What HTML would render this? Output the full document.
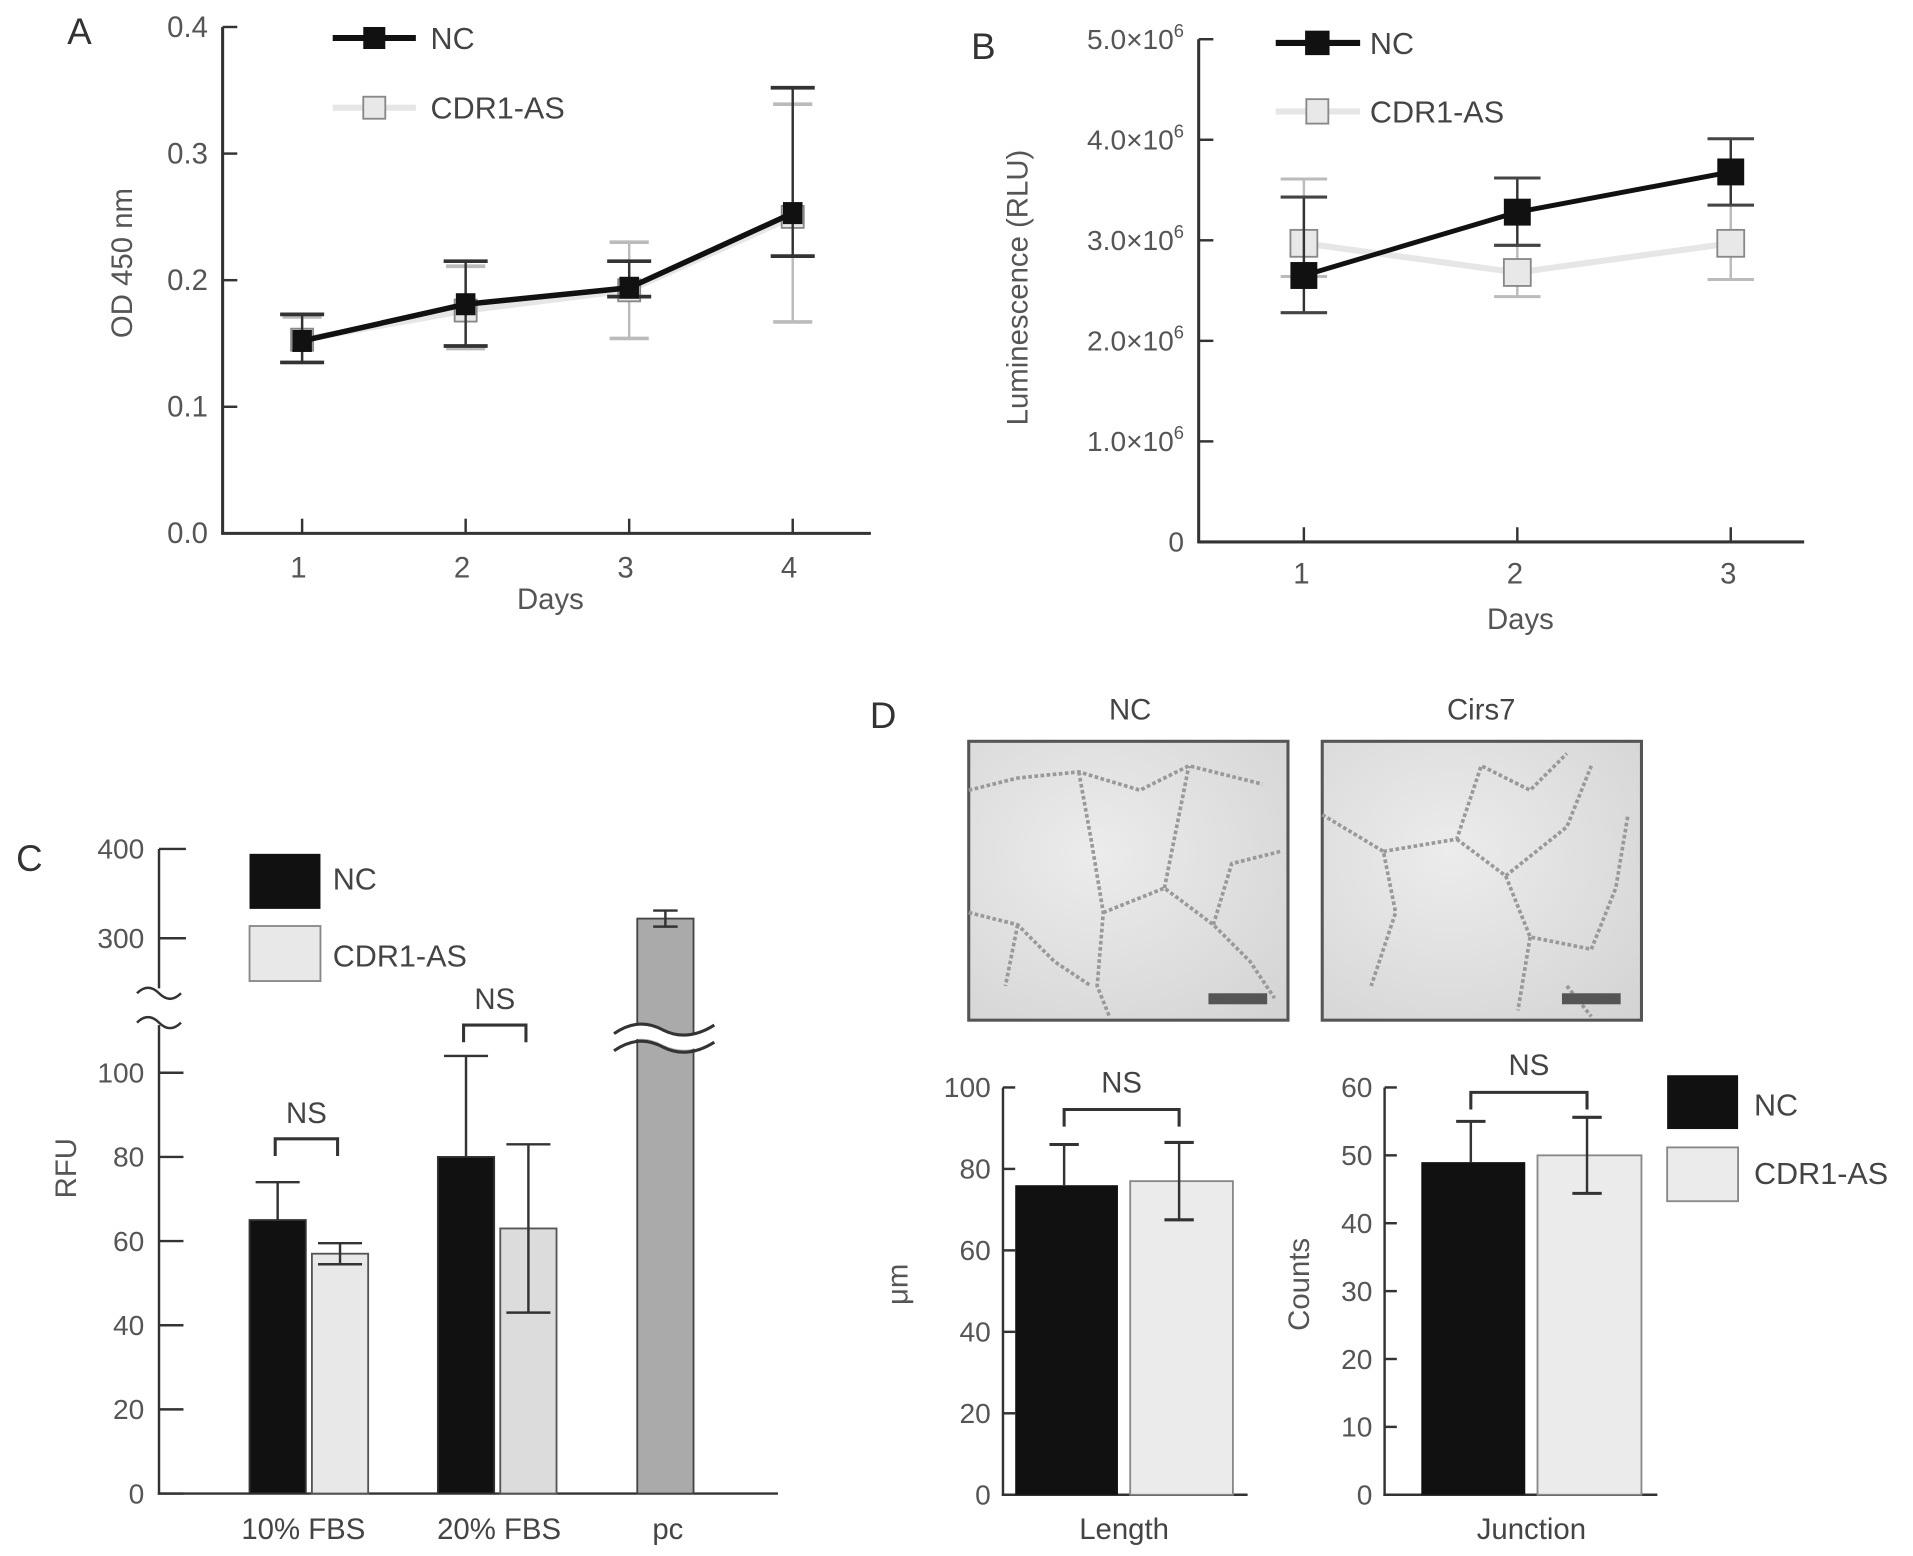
<!DOCTYPE html>
<html><head><meta charset="utf-8"><style>
html,body{margin:0;padding:0;background:#fff}
svg{display:block;font-family:"Liberation Sans",sans-serif}
</style></head><body>
<svg id="fig" width="1913" height="1556" viewBox="0 0 1564 1272" xmlns="http://www.w3.org/2000/svg">
<defs>
<radialGradient id="mg" cx="0.4" cy="0.4" r="0.8"><stop offset="0" stop-color="#ececec"/><stop offset="1" stop-color="#d4d4d4"/></radialGradient>
</defs>
<g id="root"></g>
</svg>
<script>
// Panel A data
const aDays = [1, 2, 3, 4];
const aNC = [0.152, 0.181, 0.194, 0.253];
const aNCerrHi = [0.021, 0.034, 0.021, 0.099];
const aNCerrLo = [0.017, 0.033, 0.007, 0.034];
const aCD = [0.153, 0.176, 0.192, 0.25];
const aCDerrHi = [0.018, 0.035, 0.038, 0.089];
const aCDerrLo = [0.018, 0.03, 0.038, 0.083];
const aTicks = ["0.0", "0.1", "0.2", "0.3", "0.4"];
// Panel B data
const bDays = [1, 2, 3];
const bNC = [2.65, 3.28, 3.68];
const bNCerrHi = [0.78, 0.34, 0.33];
const bNCerrLo = [0.37, 0.33, 0.33];
const bCD = [2.97, 2.68, 2.97];
const bCDerrHi = [0.64, 0.27, 0.38];
const bCDerrLo = [0.33, 0.24, 0.36];
const bTicks = ["0", "1.0", "2.0", "3.0", "4.0", "5.0"];
// Panel C data
const cCats = ["10% FBS", "20% FBS", "pc"];
const cNC = [65, 80];
const cNCerr = [9, 24];
const cCD = [57, 63];
const cCDerr = [2.5, 20];
const cPC = [322];
const cPCerr = [9];
const cTicksLow = [0, 20, 40, 60, 80, 100];
const cTicksHigh = [300, 400];
// Panel D data
const dLenNC = [76];
const dLenNCerr = [10];
const dLenCD = [77];
const dLenCDerr = [9.5];
const dLenTicks = [0, 20, 40, 60, 80, 100];
const dJunNC = [49];
const dJunNCerr = [6];
const dJunCD = [50];
const dJunCDerr = [5.6];
const dJunTicks = [0, 10, 20, 30, 40, 50, 60];

const NS = "http://www.w3.org/2000/svg";
const root = document.getElementById('root');
function mk(tag, a, parent){const e=document.createElementNS(NS,tag);for(const k in a)e.setAttribute(k,a[k]);(parent||root).appendChild(e);return e;}
function txt(s,x,y,size,anchor,fill,parent){const t=mk('text',{x:x,y:y,'font-size':size,'text-anchor':anchor||'middle',fill:fill||'#444'},parent);t.textContent=s;return t;}
function line(x1,y1,x2,y2,stroke,w,parent){return mk('line',{x1:x1,y1:y1,x2:x2,y2:y2,stroke:stroke,'stroke-width':w},parent);}

// ---------- Panel A ----------
(function(){
const g=mk('g',{});


const x=d=>247+(d-1)*133.7, y=v=>436-v/0.4*414;
let t=txt('A',65,36,30,'middle','#333',g);


line(182,22,182,437,'#333',2.5,g);line(181,436,712,436,'#333',2.5,g);
aTicks.forEach((s,i)=>{const v=i*0.1;line(182,y(v),194,y(v),'#333',2,g);const tt=txt(s,170,y(v)+8,24,'end','#555',g);});
aDays.forEach(d=>{line(x(d),424,x(d),436,'#333',2,g);const tt=txt(String(d),x(d)-3,472,24,'middle','#555',g);});
t=txt('Days',450,498,24,'middle','#555',g);
t=txt('OD 450 nm',0,0,24,'middle','#555',g);t.setAttribute('transform','translate(108,215) rotate(-90)');
const cdPts=aDays.map((d,i)=>x(d)+','+y(aCD[i])).join(' ');
let p=mk('polyline',{points:cdPts,fill:'none',stroke:'#e6e6e6','stroke-width':5},g);

aDays.forEach((d,i)=>{const xx=x(d);const hi=y(aCD[i]+aCDerrHi[i]),lo=y(aCD[i]-aCDerrLo[i]);line(xx,lo,xx,hi,'#bbb',2,g);line(xx-16,hi,xx+16,hi,'#bbb',3,g);line(xx-16,lo,xx+16,lo,'#bbb',3,g);
const r=mk('rect',{x:xx-9,y:y(aCD[i])-9,width:18,height:18,fill:'#e8e8e8',stroke:'#888','stroke-width':1.5},g);});
const ncPts=aDays.map((d,i)=>x(d)+','+y(aNC[i])).join(' ');
p=mk('polyline',{points:ncPts,fill:'none',stroke:'#111','stroke-width':4.5},g);

aDays.forEach((d,i)=>{const xx=x(d);const hi=y(aNC[i]+aNCerrHi[i]),lo=y(aNC[i]-aNCerrLo[i]);line(xx,lo,xx,hi,'#333',2,g);line(xx-18,hi,xx+18,hi,'#333',3,g);line(xx-18,lo,xx+18,lo,'#333',3,g);
const r=mk('rect',{x:xx-8,y:y(aNC[i])-9,width:16,height:18,fill:'#111'},g);});
line(272,31,340,31,'#111',5,g);mk('rect',{x:297,y:22,width:18,height:18,fill:'#111'},g);
t=txt('NC',352,40,25,'start','#444',g);
line(272,88,340,88,'#e6e6e6',5,g);mk('rect',{x:297,y:79,width:18,height:18,fill:'#e8e8e8',stroke:'#888','stroke-width':1.5},g);
t=txt('CDR1-AS',352,97,25,'start','#444',g);
})();

// ---------- Panel B ----------
(function(){
const g=mk('g',{});


const x=d=>1066+(d-1)*174.5, y=v=>443-v/5*411;
let t=txt('B',804,48,30,'middle','#333',g);
line(980,32,980,444,'#333',2.5,g);line(979,443,1475,443,'#333',2.5,g);
bTicks.forEach((s,i)=>{const yy=y(i);line(980,yy,992,yy,'#333',2,g);
 const tt=mk('text',{x:968,y:yy+8,'font-size':23,'text-anchor':'end',fill:'#555'},g);
 if(i===0){tt.textContent='0';}else{tt.textContent=s+'\u00d710';const ts=mk('tspan',{dy:-10,'font-size':15},tt);ts.textContent='6';}
 });
bDays.forEach(d=>{line(x(d),431,x(d),443,'#333',2,g);const tt=txt(String(d),x(d)-2,477,24,'middle','#555',g);});
t=txt('Days',1243,514,24,'middle','#555',g);
t=txt('Luminescence (RLU)',0,0,24,'middle','#555',g);t.setAttribute('transform','translate(840,235) rotate(-90)');
let p=mk('polyline',{points:bDays.map((d,i)=>x(d)+','+y(bCD[i])).join(' '),fill:'none',stroke:'#e6e6e6','stroke-width':5},g);

bDays.forEach((d,i)=>{const xx=x(d);const hi=y(bCD[i]+bCDerrHi[i]),lo=y(bCD[i]-bCDerrLo[i]);line(xx,lo,xx,hi,'#bbb',2,g);line(xx-19,hi,xx+19,hi,'#bbb',2.5,g);line(xx-19,lo,xx+19,lo,'#bbb',2.5,g);
const r=mk('rect',{x:xx-11,y:y(bCD[i])-11,width:22,height:22,fill:'#e8e8e8',stroke:'#888','stroke-width':1.5},g);});
p=mk('polyline',{points:bDays.map((d,i)=>x(d)+','+y(bNC[i])).join(' '),fill:'none',stroke:'#111','stroke-width':4},g);

bDays.forEach((d,i)=>{const xx=x(d);const hi=y(bNC[i]+bNCerrHi[i]),lo=y(bNC[i]-bNCerrLo[i]);line(xx,lo,xx,hi,'#333',2,g);line(xx-19,hi,xx+19,hi,'#444',2.5,g);line(xx-19,lo,xx+19,lo,'#444',2.5,g);
const r=mk('rect',{x:xx-11,y:y(bNC[i])-11,width:22,height:22,fill:'#111'},g);});
line(1043,35,1112,35,'#111',5,g);mk('rect',{x:1067,y:25,width:20,height:20,fill:'#111'},g);
t=txt('NC',1120,44,25,'start','#444',g);
line(1043,91,1112,91,'#e6e6e6',5,g);mk('rect',{x:1068,y:81,width:18,height:20,fill:'#e8e8e8',stroke:'#888','stroke-width':1.5},g);
t=txt('CDR1-AS',1120,100,25,'start','#444',g);
})();

// ---------- Panel C ----------
(function(){
const g=mk('g',{});


const yL=v=>1221-v*3.44, yH=v=>767-(v-300)*0.73;
let t=txt('C',24,712,30,'middle','#333',g);
line(130,694,130,808,'#333',2,g);line(130,838,130,1222,'#333',2,g);line(129,1221,636,1221,'#333',2,g);
mk('path',{d:'M112,812 q9,-9 18,0 q9,9 18,0 M112,836 q9,-9 18,0 q9,9 18,0',fill:'none',stroke:'#333','stroke-width':2},g);
cTicksLow.forEach(v=>{line(130,yL(v),150,yL(v),'#333',2,g);const tt=txt(String(v),118,yL(v)+8,23,'end','#555',g);});
cTicksHigh.forEach(v=>{line(130,yH(v),152,yH(v),'#333',2,g);const tt=txt(String(v),118,yH(v)+8,23,'end','#555',g);});
t=txt('RFU',0,0,24,'middle','#555',g);t.setAttribute('transform','translate(62,955) rotate(-90)');
const gx=[204,358];
cNC.forEach((v,i)=>{const x0=gx[i];let r=mk('rect',{x:x0,y:yL(v),width:46,height:yL(0)-yL(v),fill:'#111',stroke:'#333','stroke-width':1.5},g);
 line(x0+23,yL(v),x0+23,yL(v+cNCerr[i]),'#333',2,g);line(x0+5,yL(v+cNCerr[i]),x0+41,yL(v+cNCerr[i]),'#333',2,g);
 const v2=cCD[i];const x1=x0+51;r=mk('rect',{x:x1,y:yL(v2),width:46,height:yL(0)-yL(v2),fill:i?'#dcdcdc':'#e8e8e8',stroke:'#555','stroke-width':1.5},g);
 line(x1+23,yL(v2-cCDerr[i]),x1+23,yL(v2+cCDerr[i]),'#333',2,g);line(x1+5,yL(v2+cCDerr[i]),x1+41,yL(v2+cCDerr[i]),'#333',2,g);line(x1+5,yL(v2-cCDerr[i]),x1+41,yL(v2-cCDerr[i]),'#333',2,g);
 const topB=i?838:931;
 mk('path',{d:`M${x0+21},${topB+14} V${topB} H${x1+21} V${topB+14}`,fill:'none',stroke:'#333','stroke-width':2.5},g);
 const tt=txt('NS',(x0+x1+42)/2,topB-13,24,'middle','#444',g);});
let r=mk('rect',{x:521,y:yH(cPC[0]),width:46,height:1221-yH(cPC[0]),fill:'#aaa',stroke:'#444','stroke-width':1.5},g);
line(544,yH(cPC[0]+cPCerr[0]),544,yH(cPC[0]-cPCerr[0]),'#333',2,g);line(534,yH(cPC[0]+cPCerr[0]),554,yH(cPC[0]+cPCerr[0]),'#333',2,g);line(534,yH(cPC[0]-cPCerr[0]),554,yH(cPC[0]-cPCerr[0]),'#333',2,g);
mk('path',{d:'M502,845 q20,-14 40,-3 q20,10 42,-4 L584,850 q-22,14 -42,4 q-20,-11 -40,3 Z',fill:'#fff',stroke:'none'},g);
mk('path',{d:'M502,845 q20,-14 40,-3 q20,10 42,-4 M502,859 q20,-14 40,-3 q20,10 42,-4',fill:'none',stroke:'#333','stroke-width':2.5},g);
const cx=[248,408,546];
cCats.forEach((s,i)=>{const tt=txt(s,cx[i],1258,24,'middle','#444',g);});
r=mk('rect',{x:204,y:698,width:58,height:45,fill:'#111'},g);
t=txt('NC',272,727,25,'start','#444',g);
r=mk('rect',{x:204,y:757,width:58,height:45,fill:'#e8e8e8',stroke:'#888','stroke-width':1.5},g);
t=txt('CDR1-AS',272,790,25,'start','#444',g);
})();

// ---------- Panel D ----------
(function(){
const g=mk('g',{});


let t=txt('D',722,595,30,'middle','#333',g);
t=txt('NC',924,588,24,'middle','#444',g);
t=txt('Cirs7',1211,588,24,'middle','#444',g);
[[792,'d-image-nc'],[1081,'d-image-cirs7']].forEach(([x0,n],k)=>{
 const r=mk('rect',{x:x0,y:606,width:261,height:228,fill:'url(#mg)',stroke:'#555','stroke-width':2.5},g);
 const net=k===0?'M0,40 L40,30 L90,25 L140,40 L180,20 L240,35 M90,25 L100,80 L110,140 L105,200 L115,225 M110,140 L160,120 L200,150 L230,180 L250,210 M160,120 L170,70 L180,20 M0,140 L40,150 L70,180 L100,200 M200,150 L215,100 L255,90 M40,150 L30,200':'M0,60 L50,90 L60,140 L40,200 M50,90 L110,80 L130,20 L170,40 L200,10 M110,80 L150,110 L170,160 L220,170 M170,160 L160,220 M220,170 L240,120 L250,60 M150,110 L200,70 L220,20 M200,200 L220,225';
 mk('path',{d:net,transform:`translate(${x0},606)`,fill:'none',stroke:'#999','stroke-width':3,'stroke-dasharray':'3 2'},g);
 const sb=mk('rect',{x:x0+196,y:812,width:48,height:9,fill:'#555'},g);
});
function barChart(ax,axEnd,ymax,ticks,nc,ncE,cd,cdE,bx,bw,name,label,ylab,ylabX,nsTop){
 const y=v=>1222-v/ymax*333;
 line(ax,889,ax,1223,'#333',2,g);line(ax-1,1222,axEnd,1222,'#333',2,g);
 ticks.forEach(v=>{line(ax,y(v),ax+10,y(v),'#333',2,g);const tt=txt(String(v),ax-10,y(v)+8,23,'end','#555',g);});
 let r=mk('rect',{x:bx,y:y(nc[0]),width:bw,height:y(0)-y(nc[0]),fill:'#111'},g);
 const x1=bx+bw+10;
 r=mk('rect',{x:x1,y:y(cd[0]),width:bw,height:y(0)-y(cd[0]),fill:'#ebebeb',stroke:'#888','stroke-width':1.5},g);
 const c0=bx+bw/2-2,c1=x1+bw/2-2;
 line(c0,y(nc[0]),c0,y(nc[0]+ncE[0]),'#333',2,g);line(c0-12,y(nc[0]+ncE[0]),c0+12,y(nc[0]+ncE[0]),'#333',2.5,g);
 line(c1,y(cd[0]-cdE[0]),c1,y(cd[0]+cdE[0]),'#333',2,g);line(c1-12,y(cd[0]+cdE[0]),c1+12,y(cd[0]+cdE[0]),'#333',2.5,g);line(c1-12,y(cd[0]-cdE[0]),c1+12,y(cd[0]-cdE[0]),'#333',2.5,g);
 mk('path',{d:`M${c0},${nsTop+14} V${nsTop} H${c1} V${nsTop+14}`,fill:'none',stroke:'#333','stroke-width':2.5},g);
 let tt=txt('NS',(c0+c1)/2,nsTop-14,24,'middle','#444',g);
 tt=txt(label,(bx+x1+bw)/2,1258,24,'middle','#444',g);
 tt=txt(ylab,0,0,24,'middle','#555',g);tt.setAttribute('transform',`translate(${ylabX},1050) rotate(-90)`);
}
barChart(820,1020,100,dLenTicks,dLenNC,dLenNCerr,dLenCD,dLenCDerr,830,84,'length','Length','\u03bcm',742,907);
barChart(1132,1355,60,dJunTicks,dJunNC,dJunNCerr,dJunCD,dJunCDerr,1162,85,'junction','Junction','Counts',1070,893);
let r=mk('rect',{x:1363,y:879,width:58,height:44,fill:'#111'},g);
t=txt('NC',1434,912,25,'start','#444',g);
r=mk('rect',{x:1363,y:938,width:58,height:44,fill:'#ebebeb',stroke:'#888','stroke-width':1.5},g);
t=txt('CDR1-AS',1434,968,25,'start','#444',g);
})();
</script>
</body></html>
